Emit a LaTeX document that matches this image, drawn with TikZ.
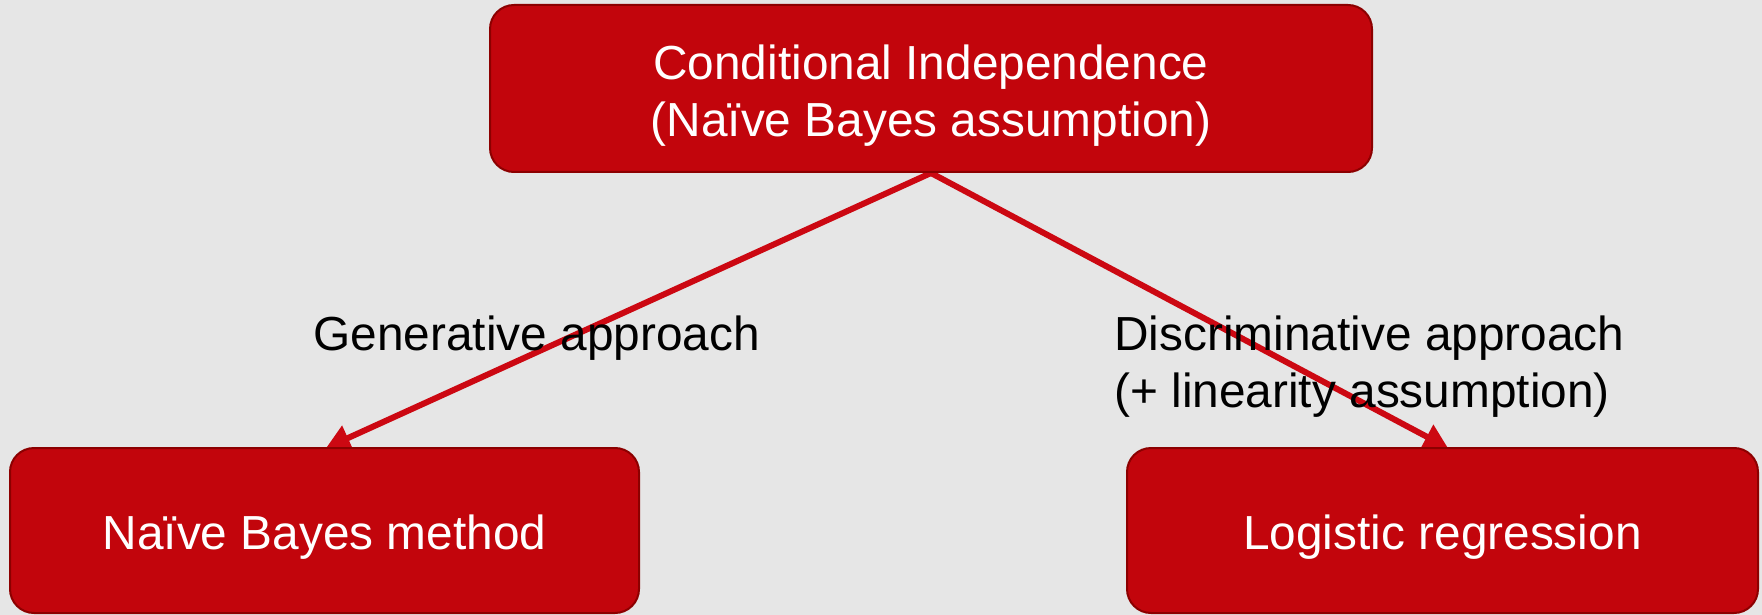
\documentclass[tikz,border=0pt]{standalone}
\usepackage{fontspec}
\setmainfont{Liberation Sans}
\usetikzlibrary{arrows.meta,backgrounds}
\definecolor{bg}{RGB}{230,230,230}
\definecolor{boxfill}{RGB}{194,5,12}
\definecolor{boxline}{RGB}{140,0,0}
\definecolor{arrowc}{RGB}{204,8,18}
\newcommand{\lowerstrut}{\rule{0pt}{24pt}}
\begin{document}
\begin{tikzpicture}[x=0.5pt,y=-0.5pt,
  box/.style={draw=boxline, line width=1pt, fill=boxfill, rounded corners=12pt,
    text=white, font=\fontsize{23.9}{28.5}\selectfont, align=center, inner sep=0pt},
  conn/.style={draw=arrowc, line width=3pt, -{Triangle[width=13pt,length=12pt]}},
  lab/.style={font=\fontsize{23.9}{28.5}\selectfont, align=left, anchor=west, inner sep=0pt, text=black}]
\useasboundingbox (0,0) rectangle (1762,615);
\node[box, minimum width=441pt, minimum height=83.5pt] (top) at (931,88.5)
  {\lowerstrut Conditional Independence\\(Naïve Bayes assumption)};
\node[box, minimum width=314.5pt, minimum height=82.5pt] (nb) at (324.5,530.5)
  {\lowerstrut Naïve Bayes method};
\node[box, minimum width=315.5pt, minimum height=82.5pt] (lr) at (1442.5,530.5)
  {\lowerstrut Logistic regression};
\coordinate (lend) at (326,448);
\coordinate (rend) at (1448,448);
\begin{scope}[on background layer]
  \fill[bg] (0,0) rectangle (1762,615);
  \draw[conn] (top.south) -- (lend);
  \draw[conn] (top.south) -- (rend);
\end{scope}
\node[lab] (gen) at (313,338) {Generative approach};
\node[lab] (disc) at (1114,366.5) {Discriminative approach\\(+ linearity assumption)};
\end{tikzpicture}
\end{document}
